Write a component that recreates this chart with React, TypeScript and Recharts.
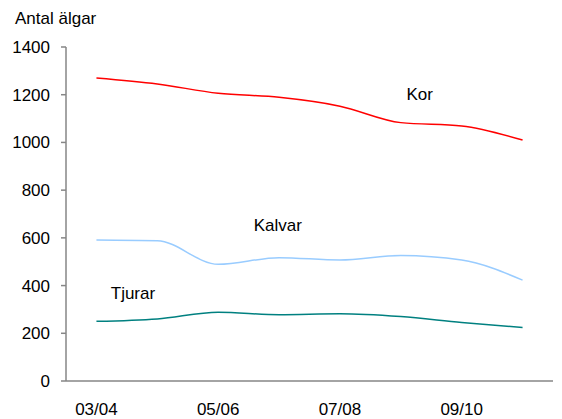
import React from "react";
import {
  LineChart,
  Line,
  XAxis,
  YAxis,
  ReferenceDot,
} from "recharts";

// säsonger (endast varannan visas som etikett)
const seasons = ["03/04", "04/05", "05/06", "06/07", "07/08", "08/09", "09/10", "10/11"];
const kor = [1270, 1245, 1206, 1189, 1152, 1083, 1069, 1010];
const kalvar = [591, 588, 489, 517, 507, 526, 507, 423];
const tjurar = [250, 260, 288, 278, 282, 270, 245, 224];

const yTicks = [0, 200, 400, 600, 800, 1000, 1200, 1400];
const labelSeasons = ["03/04", "05/06", "07/08", "09/10"];

// annoteringar i datakoordinater (x = säsongsindex)
const seriesLabels = [
  { text: "Kor", x: 5.81, y: 1203 },
  { text: "Kalvar", x: 3.48, y: 655 },
  { text: "Tjurar", x: 1.1, y: 370 },
];

const AXIS = "#868686";
const FONT = "'Liberation Sans', Arial, sans-serif";

const data = seasons.map((s, i) => ({
  x: i + 0.5,
  season: s,
  kor: kor[i],
  kalvar: kalvar[i],
  tjurar: tjurar[i],
}));

const boundaryTicks = seasons.map((_, i) => i).concat(seasons.length);
const labelTicks = labelSeasons.map((s) => seasons.indexOf(s) + 0.5);

export default function App() {
  return (
    <div style={{ position: "absolute", left: 0, top: 0, width: 562, height: 419, fontFamily: FONT }}>
      <div
        style={{
          position: "absolute",
          left: 15,
          top: 9,
          fontSize: 17,
          color: "#000",
          lineHeight: "20px",
        }}
      >
        Antal älgar
      </div>
      <LineChart
        width={562}
        height={419}
        data={data}
        margin={{ top: 47, right: 9, bottom: 0, left: 0 }}
      >
        <XAxis
          xAxisId="grid"
          dataKey="x"
          type="number"
          domain={[0, seasons.length]}
          ticks={boundaryTicks}
          tick={false}
          tickSize={6}
          height={8}
          stroke={AXIS}
          axisLine={{ stroke: AXIS, strokeWidth: 1.5 }}
          tickLine={{ stroke: AXIS, strokeWidth: 1.5 }}
        />
        <XAxis
          xAxisId="labels"
          dataKey="x"
          type="number"
          domain={[0, seasons.length]}
          ticks={labelTicks}
          tickFormatter={(v: number) => seasons[Math.floor(v)]}
          axisLine={false}
          tickLine={false}
          tickSize={0}
          tickMargin={14}
          height={30}
          interval={0}
          tick={{ fontSize: 17, fill: "#000", fontFamily: FONT }}
        />
        <YAxis
          domain={[0, 1400]}
          ticks={yTicks}
          width={66}
          tickSize={5}
          tickMargin={11}
          axisLine={{ stroke: AXIS, strokeWidth: 1.5 }}
          tickLine={{ stroke: AXIS, strokeWidth: 1.5 }}
          tick={{ fontSize: 17, fill: "#000", fontFamily: FONT }}
        />
        <Line
          xAxisId="grid"
          type="monotone"
          dataKey="kor"
          stroke="#ff0000"
          strokeWidth={1.5}
          dot={false}
          isAnimationActive={false}
        />
        <Line
          xAxisId="grid"
          type="monotone"
          dataKey="kalvar"
          stroke="#99ccff"
          strokeWidth={1.5}
          dot={false}
          isAnimationActive={false}
        />
        <Line
          xAxisId="grid"
          type="monotone"
          dataKey="tjurar"
          stroke="#008080"
          strokeWidth={1.5}
          dot={false}
          isAnimationActive={false}
        />
        {seriesLabels.map((l) => (
          <ReferenceDot
            key={l.text}
            xAxisId="grid"
            x={l.x}
            y={l.y}
            r={0}
            stroke="none"
            fill="none"
            label={{
              value: l.text,
              position: "center",
              fontSize: 17,
              fill: "#000",
              fontFamily: FONT,
            }}
          />
        ))}
      </LineChart>
    </div>
  );
}
